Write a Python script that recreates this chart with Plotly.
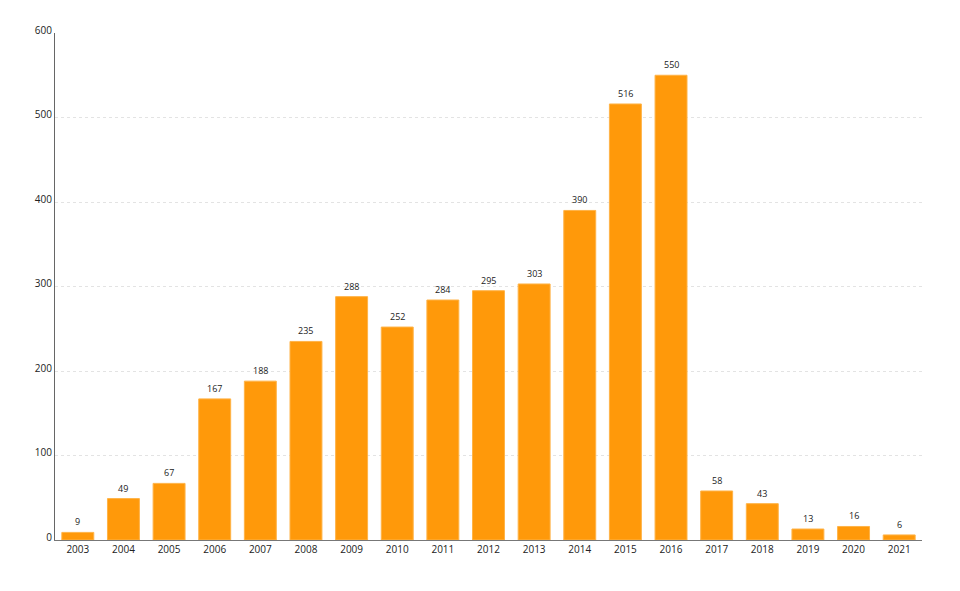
import plotly.graph_objects as go

years = ["2003", "2004", "2005", "2006", "2007", "2008", "2009", "2010", "2011", "2012",
         "2013", "2014", "2015", "2016", "2017", "2018", "2019", "2020", "2021"]
values = [9, 49, 67, 167, 188, 235, 288, 252, 284, 295, 303, 390, 516, 550, 58, 43, 13, 16, 6]

fig = go.Figure(go.Bar(
    x=years, y=values,
    marker=dict(color="#FF990A", line=dict(color="#FFB347", width=1)),
    cliponaxis=False,
))

for i, v in enumerate(values):
    fig.add_annotation(x=i, y=v, xref="x", yref="y", text=str(v), showarrow=False,
                       yanchor="bottom", yshift=2,
                       font=dict(family="Open Sans", size=9, color="#222"))

fig.update_layout(
    width=960, height=591,
    margin=dict(l=55, r=38, t=33, b=51),
    paper_bgcolor="white", plot_bgcolor="white",
    font=dict(family="Open Sans", size=10, color="#222"),
    bargap=0.3,
    showlegend=False,
    xaxis=dict(type="category", categoryorder="array", categoryarray=years,
               showline=True, linecolor="#777", linewidth=1,
               ticks="", showgrid=False, tickfont=dict(size=10)),
    yaxis=dict(range=[0, 600], tickvals=[0, 100, 200, 300, 400, 500, 600],
               showline=True, linecolor="#666", linewidth=1,
               showgrid=True, gridcolor="#e3e3e3", griddash="dot", gridwidth=1,
               zeroline=False, ticks="", tickfont=dict(size=10), ticklabelshift=-3),
)

fig.write_html("out.html")
